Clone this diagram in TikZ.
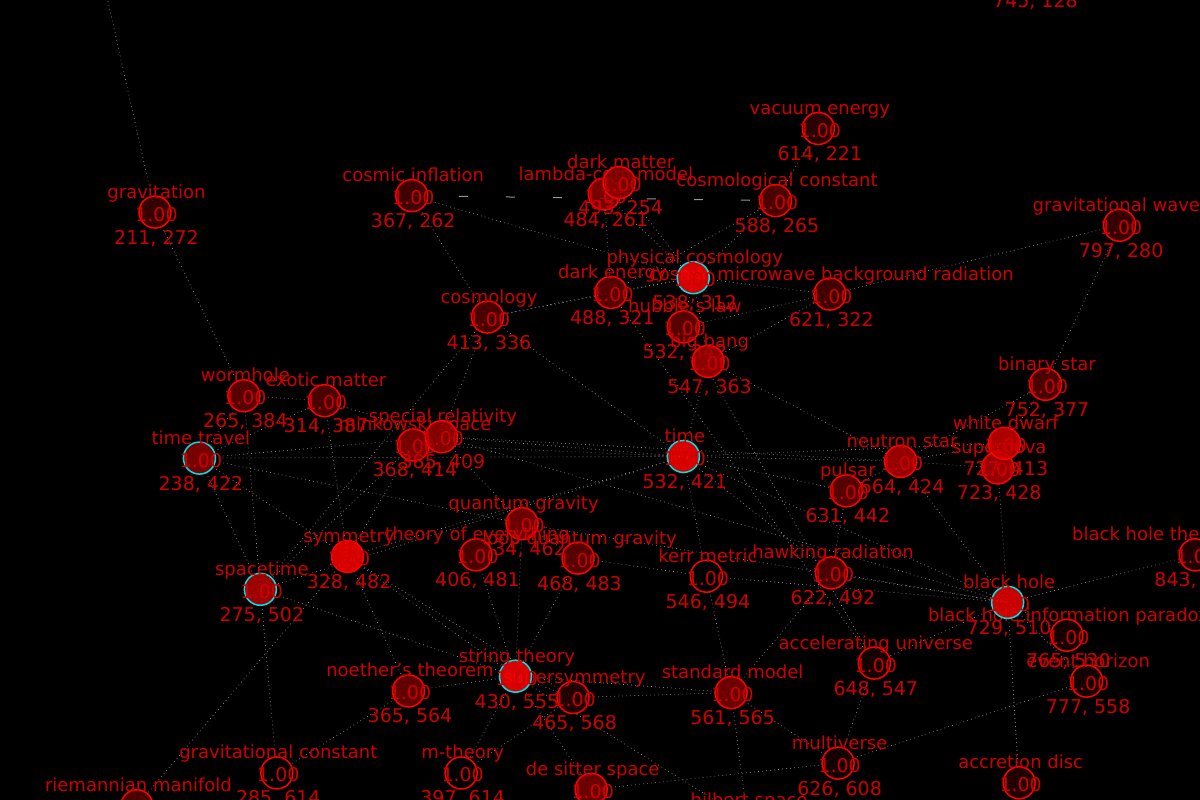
\documentclass[tikz,border=0pt]{standalone}
\usepackage{fontspec}
\setmainfont{DejaVu Sans}

\definecolor{lblred}{RGB}{205,0,0}
\definecolor{ringred}{RGB}{255,0,0}
\definecolor{hubring}{RGB}{0,225,230}
\definecolor{linkgray}{RGB}{150,150,150}

\tikzset{
  concept/.style={circle, minimum size=32pt, inner sep=0pt, line width=1.5pt, fill opacity=0.85},
  namelbl/.style={anchor=base, text=lblred, inner sep=0pt, font=\fontsize{18}{20}\selectfont},
  numlbl/.style={namelbl, font=\fontsize{19}{21}\selectfont},
  link/.style={draw=linkgray, line width=0.7pt, dash pattern=on 0.7pt off 3.3pt},
  sparse/.style={draw=linkgray, line width=1pt, dash pattern=on 9pt off 38pt},
}

\begin{document}
\begin{tikzpicture}[x=1pt,y=-1pt]
\useasboundingbox (0,0) rectangle (1200,800);
\fill[black] (0,0) rectangle (1200,800);

% screen position from the printed layout values
\begin{scope}[shift={(-192.3,-234)}, x=1.646pt, y=-1.64pt]
\foreach \id/\px/\py in {grav/211/272, infl/367/262, dm/493/254, lcdm/484/261,
    vac/614/221, cc/588/265, gw/797/280, pc/538/312, de/488/321, cmb/621/322,
    hub/532/342, bb/547/363, cosmo/413/336, worm/265/384, exo/314/387,
    mink/368/414, sr/385/409, tt/238/422, time/532/421, ns/664/424, pul/631/442,
    bin/752/377, wd/727/413, sn/723/428, qg/434/462, toe/406/481, lqg/468/483,
    sym/328/482, st/275/502, kerr/546/494, hr/622/492, bh/729/510, bht/843/481,
    bhip/765/530, eh/777/558, acc/648/547, str/430/555, noe/365/564, susy/465/568,
    sm/561/565, gc/285/614, mth/397/614, ds/476/624, mv/626/608, ad/736/620,
    rm/200/634, hil/571/643, far/745/128}
  \coordinate (\id) at (\px,\py);
\coordinate (offtop) at (175,110);

% links
\draw[sparse] (infl) -- (cc);
\foreach \a/\b in {offtop/grav, grav/worm, infl/pc, infl/cosmo, dm/pc, lcdm/pc, lcdm/de,
    vac/cc, cc/de, cc/pc, gw/cmb, gw/bin, pc/de, pc/cmb, pc/hub, pc/bb, pc/cosmo,
    cosmo/de, cosmo/sr, cosmo/time, cosmo/st, bb/time, bb/cmb, bb/ns, hub/acc, hub/cmb,
    time/sr, time/mink, time/tt, time/st, time/bh, time/ns, time/wd, time/kerr,
    time/pul, time/hr, time/sym, tt/worm, tt/exo, tt/st, tt/sym, tt/qg, tt/sr,
    worm/exo, worm/st, exo/sr, exo/sym, mink/sr, mink/st, mink/sym, sr/qg, sr/bh,
    sr/ns, qg/toe, qg/lqg, qg/str, qg/bh, toe/str, lqg/str, lqg/kerr, sym/noe,
    sym/susy, sym/str, sym/rm, st/gc, st/str, str/susy, str/mth, str/ds, str/sm,
    str/noe, str/hil, sm/susy, sm/hil, sm/mv, sm/hr, kerr/bh, kerr/sm, hr/bh, hr/pul,
    ns/pul, ns/sn, ns/wd, ns/bh, bin/wd, bin/ns, sn/wd, sn/bh, bh/bht, bh/bhip,
    bh/eh, bh/ad, bh/acc, acc/de, acc/mv, mv/eh, noe/gc, ds/mv, mth/susy}
  \draw[link] (\a) -- (\b);

% concepts
\foreach \id/\txt/\px/\py/\fl/\ring in {
    grav/gravitation/211/272/25/ringred,
    infl/cosmic inflation/367/262/30/ringred,
    lcdm/lambda-cdm model/484/261/55/ringred,
    dm/dark matter/493/254/55/ringred,
    vac/vacuum energy/614/221/20/ringred,
    cc/cosmological constant/588/265/35/ringred,
    gw/gravitational waves/797/280/25/ringred,
    de/dark energy/488/321/40/ringred,
    cmb/cosmic microwave background radiation/621/322/30/ringred,
    pc/physical cosmology/538/312/100/hubring,
    hub/hubble's law/532/342/40/ringred,
    bb/big bang/547/363/65/ringred,
    cosmo/cosmology/413/336/35/ringred,
    worm/wormhole/265/384/40/ringred,
    exo/exotic matter/314/387/35/ringred,
    mink/minkowski space/368/414/55/ringred,
    sr/special relativity/385/409/60/ringred,
    tt/time travel/238/422/55/hubring,
    time/time/532/421/100/hubring,
    pul/pulsar/631/442/40/ringred,
    ns/neutron star/664/424/70/ringred,
    bin/binary star/752/377/35/ringred,
    sn/supernova/723/428/70/ringred,
    wd/white dwarf/727/413/80/ringred,
    qg/quantum gravity/434/462/50/ringred,
    toe/theory of everything/406/481/35/ringred,
    lqg/loop quantum gravity/468/483/40/ringred,
    sym/symmetry/328/482/100/ringred,
    st/spacetime/275/502/72/hubring,
    kerr/kerr metric/546/494/0/ringred,
    hr/hawking radiation/622/492/35/ringred,
    bht/black hole thermodynamics/843/481/15/ringred,
    bhip/black hole information paradox/765/530/10/ringred,
    eh/event horizon/777/558/10/ringred,
    bh/black hole/729/510/92/hubring,
    acc/accelerating universe/648/547/10/ringred,
    noe/noether's theorem/365/564/45/ringred,
    susy/supersymmetry/465/568/15/ringred,
    str/string theory/430/555/100/hubring,
    sm/standard model/561/565/50/ringred,
    gc/gravitational constant/285/614/0/ringred,
    mth/m-theory/397/614/0/ringred,
    ds/de sitter space/476/624/50/ringred,
    mv/multiverse/626/608/10/ringred,
    ad/accretion disc/736/620/15/ringred,
    rm/riemannian manifold/200/634/35/ringred,
    hil/hilbert space/571/643/30/ringred,
    far/{}/745/128/30/ringred}
{
  \node[concept, fill=red!\fl!black, draw=\ring] (\id-c) at (\id) {};
  \node[namelbl] (\id-n) at ([xshift=1.5pt,yshift=14pt]\id) {\txt};
  \node[numlbl] (\id-v) at ([xshift=1.5pt,yshift=-9pt]\id) {1.00};
  \node[numlbl] (\id-xy) at ([xshift=1.5pt,yshift=-32pt]\id) {\px, \py};
}
\end{scope}
\end{tikzpicture}
\end{document}
